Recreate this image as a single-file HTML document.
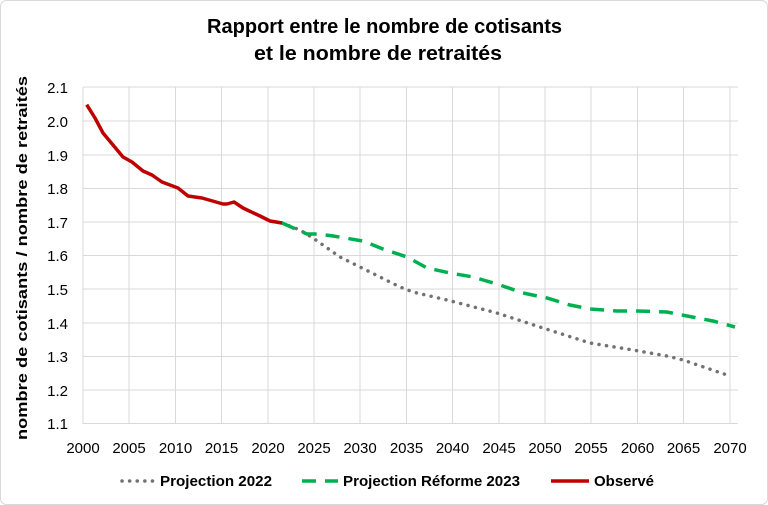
<!DOCTYPE html>
<html><head><meta charset="utf-8"><style>
body{margin:0;background:#fff;}
svg{display:block;font-family:"Liberation Sans",Arial,sans-serif;}
</style></head><body>
<svg width="768" height="505" viewBox="0 0 768 505" xmlns="http://www.w3.org/2000/svg">
<rect x="0.5" y="0.5" width="767" height="504" rx="6" fill="#fff" stroke="#d9d9d9"/>
<text x="207" y="33" font-size="20" font-weight="bold" fill="#000" textLength="355" lengthAdjust="spacingAndGlyphs">Rapport entre le nombre de cotisants</text>
<text x="254" y="60" font-size="20" font-weight="bold" fill="#000" textLength="248" lengthAdjust="spacingAndGlyphs">et le nombre de retraités</text>
<g stroke="#d9d9d9" stroke-width="1">
<line x1="83" y1="87" x2="738" y2="87"/><line x1="83" y1="121" x2="738" y2="121"/><line x1="83" y1="155" x2="738" y2="155"/><line x1="83" y1="188.5" x2="738" y2="188.5"/><line x1="83" y1="222" x2="738" y2="222"/><line x1="83" y1="255.5" x2="738" y2="255.5"/><line x1="83" y1="289" x2="738" y2="289"/><line x1="83" y1="323" x2="738" y2="323"/><line x1="83" y1="356.5" x2="738" y2="356.5"/><line x1="83" y1="390" x2="738" y2="390"/><line x1="83" y1="423.5" x2="738" y2="423.5"/>
<line x1="83" y1="87" x2="83" y2="424"/><line x1="129" y1="87" x2="129" y2="424"/><line x1="175.5" y1="87" x2="175.5" y2="424"/><line x1="221.5" y1="87" x2="221.5" y2="424"/><line x1="268" y1="87" x2="268" y2="424"/><line x1="314" y1="87" x2="314" y2="424"/><line x1="360" y1="87" x2="360" y2="424"/><line x1="406.5" y1="87" x2="406.5" y2="424"/><line x1="452.5" y1="87" x2="452.5" y2="424"/><line x1="499" y1="87" x2="499" y2="424"/><line x1="545" y1="87" x2="545" y2="424"/><line x1="591" y1="87" x2="591" y2="424"/><line x1="637.5" y1="87" x2="637.5" y2="424"/><line x1="683.5" y1="87" x2="683.5" y2="424"/><line x1="730" y1="87" x2="730" y2="424"/>
</g>
<g font-size="15" fill="#000" text-anchor="end">
<text x="68" y="93">2.1</text><text x="68" y="127">2.0</text><text x="68" y="161">1.9</text><text x="68" y="194">1.8</text><text x="68" y="228">1.7</text><text x="68" y="261">1.6</text><text x="68" y="295">1.5</text><text x="68" y="329">1.4</text><text x="68" y="362">1.3</text><text x="68" y="396">1.2</text><text x="68" y="429">1.1</text>
</g>
<g font-size="15" fill="#000" text-anchor="middle">
<text x="83" y="453">2000</text><text x="129" y="453">2005</text><text x="175.5" y="453">2010</text><text x="221.5" y="453">2015</text><text x="268" y="453">2020</text><text x="314" y="453">2025</text><text x="360" y="453">2030</text><text x="406.5" y="453">2035</text><text x="452.5" y="453">2040</text><text x="499" y="453">2045</text><text x="545" y="453">2050</text><text x="591" y="453">2055</text><text x="637.5" y="453">2060</text><text x="683.5" y="453">2065</text><text x="730" y="453">2070</text>
</g>
<text transform="translate(27,440) rotate(-90)" font-size="15" font-weight="bold" fill="#000" textLength="364" lengthAdjust="spacingAndGlyphs">nombre de cotisants / nombre de retraités</text>
<polyline fill="none" stroke="#767171" stroke-width="3.5" stroke-linecap="round" stroke-dasharray="0.1 7.5" points="282,223 300,230 313,238 340,257 362,268 400,287 413,292 447,300 497,313 543,328 590,343 633,350 667,356 683,360 730,376"/>
<polyline fill="none" stroke="#00b050" stroke-width="3.5" stroke-dasharray="14 9" points="282,223 307,234 318,234 333,236 363,241 383,249 407,257 427,268 450,273 473,277 500,285 523,293 547,298 570,305 590,309 617,311 637,311 667,312 687,316 713,321 735,327"/>
<polyline fill="none" stroke="#c00000" stroke-width="3.5" stroke-linejoin="round" points="86.7,104.7 95,118 103,133 113,145 123,157 132,162 143,171 152,175 162,182 178,188 188,196 202,198 223,204 227,204 234,202 243,208 260,216 270,221 282,223"/>
<g font-size="15" font-weight="bold" fill="#000">
<line x1="122" y1="481" x2="156" y2="481" stroke="#767171" stroke-width="3.5" stroke-linecap="round" stroke-dasharray="0.1 7.5"/>
<text x="160" y="486" textLength="112" lengthAdjust="spacingAndGlyphs">Projection 2022</text>
<line x1="302" y1="481" x2="338" y2="481" stroke="#00b050" stroke-width="3.5" stroke-dasharray="14 9"/>
<text x="343" y="486" textLength="177" lengthAdjust="spacingAndGlyphs">Projection Réforme 2023</text>
<line x1="551" y1="481" x2="589" y2="481" stroke="#c00000" stroke-width="3.5"/>
<text x="594" y="486" textLength="60" lengthAdjust="spacingAndGlyphs">Observé</text>
</g>
</svg>
</body></html>
